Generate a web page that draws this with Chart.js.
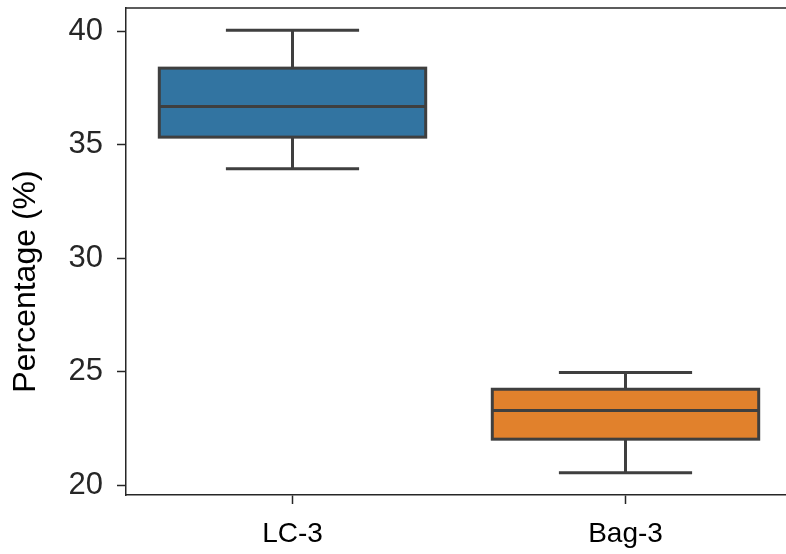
<!DOCTYPE html>
<html>
<head>
<meta charset="utf-8">
<script src="https://cdn.jsdelivr.net/npm/chart.js@4"></script>
<style>
  html, body { margin: 0; padding: 0; background: #ffffff; overflow: hidden; }
  #wrap { position: relative; width: 800px; height: 554px; }
</style>
</head>
<body>
<div id="wrap"><canvas id="chart"></canvas></div>
<script>
// Box-plot summary per group (percent)
const categories   = ['LC-3', 'Bag-3'];
const whiskerLow   = [33.94, 20.54];
const quartile1    = [35.33, 22.02];
const medians      = [36.68, 23.28];
const quartile3    = [38.37, 24.22];
const whiskerHigh  = [40.04, 24.96];
const yTickValues  = [20, 25, 30, 35, 40];
const boxColors    = ['#3274a1', '#e1812c'];
const yTitle       = 'Percentage (%)';

const LINE = '#3f3f3f';
const AXIS = '#262626';
const SANS = '"Liberation Sans", Arial, sans-serif';

// Whiskers, caps, median and box outline drawn on top of the floating bars
const boxOutline = {
  id: 'boxOutline',
  afterDatasetsDraw(chart) {
    const { ctx, scales: { y }, chartArea } = chart;
    const meta = chart.getDatasetMeta(0);
    ctx.save();
    ctx.strokeStyle = LINE;
    ctx.lineWidth = 3;
    ctx.lineCap = 'butt';
    meta.data.forEach((bar, i) => {
      const cx = bar.x;
      const half = bar.width / 2;
      const yq1 = y.getPixelForValue(quartile1[i]);
      const yq3 = y.getPixelForValue(quartile3[i]);
      const ymed = y.getPixelForValue(medians[i]);
      const ylo = y.getPixelForValue(whiskerLow[i]);
      const yhi = y.getPixelForValue(whiskerHigh[i]);
      const cap = half / 2;
      ctx.beginPath();
      // whiskers
      ctx.moveTo(cx, yq3); ctx.lineTo(cx, yhi);
      ctx.moveTo(cx, yq1); ctx.lineTo(cx, ylo);
      // caps
      ctx.moveTo(cx - cap, yhi); ctx.lineTo(cx + cap, yhi);
      ctx.moveTo(cx - cap, ylo); ctx.lineTo(cx + cap, ylo);
      // median
      ctx.moveTo(cx - half, ymed); ctx.lineTo(cx + half, ymed);
      ctx.stroke();
      ctx.strokeRect(cx - half, yq3, half * 2, yq1 - yq3);
    });
    // top frame line
    ctx.strokeStyle = AXIS;
    ctx.lineWidth = 1.5;
    ctx.beginPath();
    ctx.moveTo(chartArea.left, chartArea.top);
    ctx.lineTo(chartArea.right, chartArea.top);
    ctx.stroke();
    ctx.restore();
  }
};

// Rotated y-axis caption, set a little below the axis midpoint
const yCaption = {
  id: 'yCaption',
  afterDraw(chart) {
    const { ctx, chartArea } = chart;
    ctx.save();
    ctx.translate(26, (chartArea.top + chartArea.bottom) / 2 + 30);
    ctx.rotate(-Math.PI / 2);
    ctx.font = '32px ' + SANS;
    ctx.fillStyle = '#000000';
    ctx.textAlign = 'center';
    ctx.textBaseline = 'middle';
    ctx.fillText(yTitle, 0, 0);
    ctx.restore();
  }
};

new Chart(document.getElementById('chart'), {
  type: 'bar',
  data: {
    labels: categories,
    datasets: [{
      data: categories.map((_, i) => [quartile1[i], quartile3[i]]),
      backgroundColor: boxColors,
      borderWidth: 0,
      barPercentage: 0.8,
      categoryPercentage: 1.0
    }]
  },
  options: {
    responsive: true,
    maintainAspectRatio: false,
    animation: false,
    layout: { padding: { top: 8, right: 8, left: 0, bottom: 0 } },
    plugins: { legend: { display: false }, tooltip: { enabled: false } },
    scales: {
      x: {
        offset: true,
        grid: { display: true, offset: false, drawOnChartArea: false, drawTicks: true,
                tickLength: 9, tickColor: AXIS, tickWidth: 1.5 },
        border: { display: true, color: AXIS, width: 1.5 },
        ticks: { color: '#000000', padding: 13, font: { family: SANS, size: 28 } },
        afterFit(scale) {
          scale.height = 59;
          scale.paddingLeft = 0; scale.paddingRight = 0;
        }
      },
      y: {
        min: 19.56,
        max: 41.02,
        afterBuildTicks(scale) { scale.ticks = yTickValues.map(v => ({ value: v })); },
        grid: { display: true, drawOnChartArea: false, drawTicks: true,
                tickLength: 9, tickColor: AXIS, tickWidth: 1.5 },
        border: { display: true, color: AXIS, width: 1.5 },
        ticks: { color: AXIS, padding: 14, font: { family: SANS, size: 31 } },
        afterFit(scale) {
          scale.width = 126;
          scale.paddingTop = 0; scale.paddingBottom = 0;
        }
      }
    }
  },
  plugins: [boxOutline, yCaption]
});
</script>
</body>
</html>
